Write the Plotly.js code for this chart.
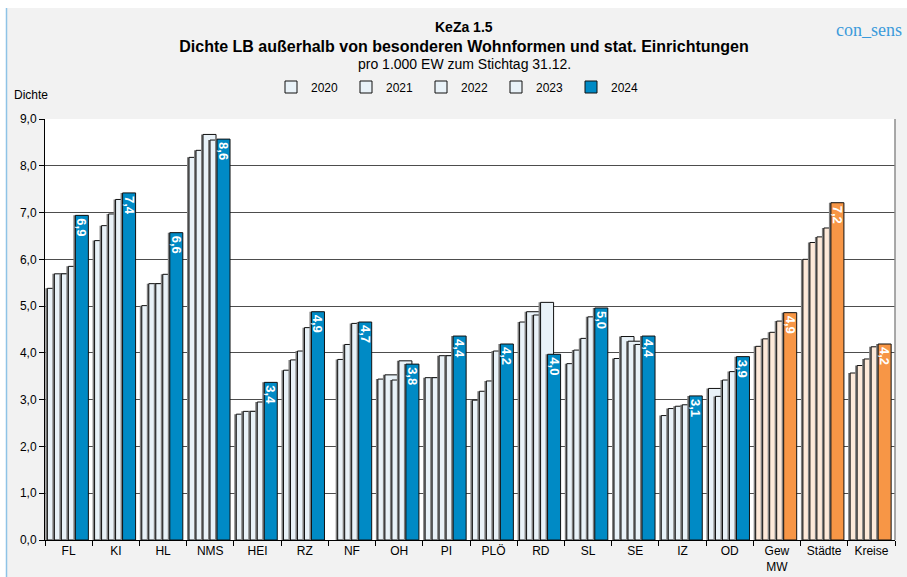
<!DOCTYPE html>
<html>
<head>
<meta charset="utf-8">
<script src="https://cdn.plot.ly/plotly-3.0.1.min.js"></script>
<style>html,body{margin:0;padding:0;background:#fff;}#chart{width:907px;height:577px;}</style>
</head>
<body>
<div id="chart"></div>
<script>
// ---- data ----
const categories = ['FL','KI','HL','NMS','HEI','RZ','NF','OH','PI','PLÖ','RD','SL','SE','IZ','OD','Gew MW','Städte','Kreise'];
const tickLabels = ['FL','KI','HL','NMS','HEI','RZ','NF','OH','PI','PLÖ','RD','SL','SE','IZ','OD','Gew<br>MW','Städte','Kreise'];
const aggregateCategories = ['Gew MW','Städte','Kreise'];
const years = ['2020','2021','2022','2023','2024'];
const v2020 = [5.38,6.40,5.01,8.18,2.69,3.63,null,3.44,3.47,2.99,4.66,3.77,3.88,2.66,3.24,4.14,6.00,3.57];
const v2021 = [5.69,6.72,5.48,8.33,2.75,3.85,3.86,3.53,3.47,3.18,4.88,4.06,4.35,2.81,3.07,4.30,6.36,3.73];
const v2022 = [5.69,6.97,5.48,8.67,2.75,4.04,4.18,3.42,3.94,3.40,4.81,4.31,4.25,2.86,3.42,4.44,6.48,3.87];
const v2023 = [5.85,7.28,5.68,8.55,2.95,4.54,4.63,3.83,3.94,4.04,5.08,4.77,4.18,2.89,3.60,4.68,6.67,4.13];
const v2024 = [6.94,7.42,6.57,8.57,3.37,4.88,4.66,3.76,4.36,4.19,3.97,4.96,4.36,3.08,3.92,4.86,7.21,4.19];
const seriesValues = [v2020, v2021, v2022, v2023, v2024];

// ---- styling ----
const FONT = 'Liberation Sans, Arial, sans-serif';
const LIGHT_BLUE = '#E9F2F8', BLUE = '#008AC5', LIGHT_ORANGE = '#FDE9D9', ORANGE = '#F79646';
const catPx = 850 / 18;          // pixel width of one category
const barW = 13 / catPx;         // bar width in category units
const step = 7 / catPx;          // overlap step
const start = -0.45;
const shadowShift = -2 / catPx;

const traces = [];
seriesValues.forEach((vals, i) => {
  const isLast = i === years.length - 1;
  const colors = categories.map(c => aggregateCategories.includes(c)
      ? (isLast ? ORANGE : LIGHT_ORANGE) : (isLast ? BLUE : LIGHT_BLUE));
  // shadow
  traces.push({
    type: 'bar', x: categories, y: vals, width: barW, offset: start + i * step + shadowShift,
    marker: {color: '#7f7f7f', line: {width: 0}}, showlegend: false, hoverinfo: 'skip'
  });
  const t = {
    type: 'bar', name: years[i], x: categories, y: vals,
    width: barW, offset: start + i * step,
    marker: {color: colors, line: {color: '#111', width: 1}}
  };
  if (isLast) {
    Object.assign(t, {
      texttemplate: '%{y:.1f}', textposition: 'inside', insidetextanchor: 'end',
      textangle: 90, constraintext: 'none',
      textfont: {family: FONT, size: 13, color: '#fff', weight: 'bold'}
    });
  }
  traces.push(t);
});

const px2x = p => (p - 45) / 850;
const px2y = p => (540 - p) / 421;

const layout = {
  width: 907, height: 577,
  margin: {l: 45, r: 12, t: 119, b: 37, pad: 0},
  paper_bgcolor: '#F2F2F2', plot_bgcolor: '#FFFFFF',
  separators: ',.',
  barmode: 'overlay',
  font: {family: FONT, size: 12, color: '#000'},
  title: {
    text: 'Dichte LB außerhalb von besonderen Wohnformen und stat. Einrichtungen',
    font: {family: FONT, size: 16, weight: 'bold', color: '#000'},
    x: 464 / 907, xanchor: 'center', xref: 'container',
    y: 1 - 46 / 577, yanchor: 'middle', yref: 'container'
  },
  xaxis: {
    type: 'category', range: [-0.5, 17.5], tickvals: categories, ticktext: tickLabels,
    ticks: 'outside', tickson: 'boundaries', ticklen: 5, tickcolor: '#000',
    showline: true, linecolor: '#000', linewidth: 1, showgrid: false,
    tickfont: {family: FONT, size: 12, color: '#000'}, fixedrange: true
  },
  yaxis: {
    range: [0, 9], dtick: 1, tick0: 0, tickformat: '.1f',
    ticks: 'outside', ticklen: 5, tickcolor: '#000',
    showline: true, linecolor: '#000', linewidth: 1,
    showgrid: true, gridcolor: '#4d4d4d', gridwidth: 1, zeroline: false,
    tickfont: {family: FONT, size: 12, color: '#000'}, fixedrange: true
  },
  legend: {
    orientation: 'h', x: px2x(271), xanchor: 'left', y: px2y(87), yanchor: 'middle',
    font: {family: FONT, size: 12, color: '#000'}, bgcolor: 'rgba(0,0,0,0)',
    entrywidth: 30, entrywidthmode: 'pixels', itemwidth: 30, traceorder: 'normal'
  },
  shapes: [
    {type: 'rect', xref: 'paper', yref: 'paper', x0: px2x(0), x1: px2x(907), y0: px2y(8), y1: px2y(-2),
     fillcolor: '#FFFFFF', line: {width: 0}, layer: 'below'},
    {type: 'rect', xref: 'paper', yref: 'paper', x0: px2x(-2), x1: px2x(6), y0: px2y(580), y1: px2y(-2),
     fillcolor: '#FFFFFF', line: {width: 0}, layer: 'below'},
    {type: 'line', xref: 'paper', yref: 'paper', x0: px2x(6.5), x1: px2x(6.5), y0: px2y(577), y1: px2y(8),
     line: {color: '#8EC3E6', width: 1.5}, layer: 'below'},
    {type: 'line', xref: 'paper', yref: 'paper', x0: 1, x1: 1, y0: 0, y1: 1,
     line: {color: '#8c8c8c', width: 1.5}}
  ],
  annotations: [
    {text: '<b>KeZa 1.5</b>', xref: 'paper', yref: 'paper', x: px2x(464), y: px2y(27),
     xanchor: 'center', yanchor: 'middle', showarrow: false, font: {family: FONT, size: 14, color: '#000'}},
    {text: 'pro 1.000 EW zum Stichtag 31.12.', xref: 'paper', yref: 'paper', x: px2x(464), y: px2y(64),
     xanchor: 'center', yanchor: 'middle', showarrow: false, font: {family: FONT, size: 14, color: '#000'}},
    {text: 'con_sens', xref: 'paper', yref: 'paper', x: px2x(904), y: px2y(30),
     xanchor: 'right', yanchor: 'middle', showarrow: false,
     font: {family: 'Liberation Serif, Times New Roman, serif', size: 18, color: '#3C9BDB'}},
    {text: 'Dichte', xref: 'paper', yref: 'paper', x: px2x(12), y: px2y(95),
     xanchor: 'left', yanchor: 'middle', showarrow: false, font: {family: FONT, size: 12, color: '#000'}}
  ]
};

Plotly.newPlot('chart', traces, layout, {displayModeBar: false, staticPlot: true});
</script>
</body>
</html>
